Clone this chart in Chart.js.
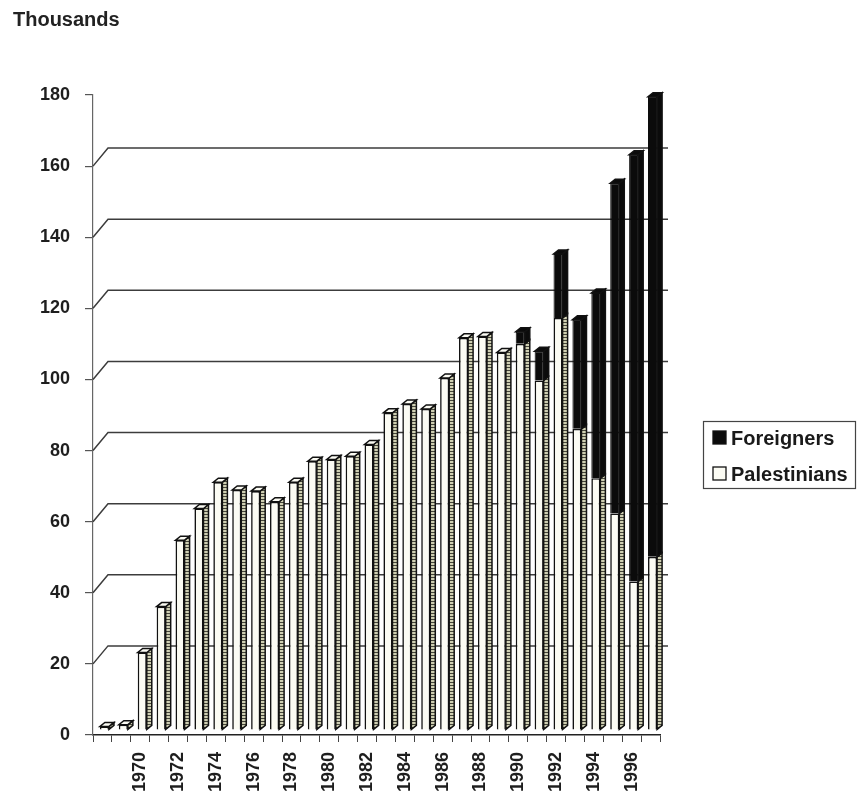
<!DOCTYPE html>
<html>
<head>
<meta charset="utf-8">
<script src="https://cdn.jsdelivr.net/npm/chart.js@4/dist/chart.umd.min.js"></script>
<style>
  html, body { margin: 0; padding: 0; background: #fff; }
  #wrap { position: relative; width: 858px; height: 797px; }
  #title { position: absolute; left: 13px; top: 8px; font: bold 20px "Liberation Sans", Arial, sans-serif; color: #222; }
  canvas { display: block; }
</style>
</head>
<body>
<div id="wrap">
  <div id="title">Thousands</div>
  <canvas id="c" width="858" height="797"></canvas>
</div>
<script>
// Workers by year, thousands
const years = ['1968','1969','1970','1971','1972','1973','1974','1975','1976','1977',
               '1978','1979','1980','1981','1982','1983','1984','1985','1986','1987',
               '1988','1989','1990','1991','1992','1993','1994','1995','1996','1997'];
const palestinians = [1.0, 1.5, 21.8, 34.7, 53.4, 62.3, 69.7, 67.5, 67.2, 64.2,
                      69.7, 75.6, 76.1, 77.0, 80.3, 89.2, 91.7, 90.3, 99.0, 110.3,
                      110.7, 106.2, 108.6, 98.3, 115.9, 84.7, 70.8, 60.9, 41.8, 48.7];
const foreigners   = [0, 0, 0, 0, 0, 0, 0, 0, 0, 0,
                      0, 0, 0, 0, 0, 0, 0, 0, 0, 0,
                      0, 0, 3.4, 8.2, 18.0, 30.7, 52.1, 92.9, 120.0, 129.4];
const labeledYears = ['1970','1972','1974','1976','1978','1980','1982','1984','1986','1988','1990','1992','1994','1996'];
const yMin = 0, yMax = 180, yStep = 20;

const FONT = '"Liberation Sans", Arial, sans-serif';
const canvas = document.getElementById('c');
const ctx = canvas.getContext('2d');

// hatched texture for the side faces of the light columns
function makeHatch() {
  const c = document.createElement('canvas');
  c.width = 4; c.height = 3;
  const g = c.getContext('2d');
  g.fillStyle = '#cfcfb2';
  g.fillRect(0, 0, 4, 3);
  g.fillStyle = '#45453a';
  g.fillRect(0, 0, 4, 1);
  return ctx.createPattern(c, 'repeat');
}
const hatch = makeHatch();

// pseudo-3D: back wall offset, column depth, column shift
const WALL_DX = 15, WALL_DY = -18;
const DEPTH_DX = 5, DEPTH_DY = -4;
const SHIFT_X = 2, SHIFT_Y = -5;

const depthPlugin = {
  id: 'depth3d',
  beforeDatasetsDraw(chart) {
    const c = chart.ctx, area = chart.chartArea, ys = chart.scales.y;
    c.save();
    c.strokeStyle = '#3c3c3c';
    c.lineWidth = 1.5;
    for (let v = yMin + yStep; v < yMax; v += yStep) {
      const py = ys.getPixelForValue(v);
      c.beginPath();
      c.moveTo(area.left, py);
      c.lineTo(area.left + WALL_DX, py + WALL_DY);
      c.lineTo(area.right + 8, py + WALL_DY);
      c.stroke();
    }
    c.restore();
    c.save();
    c.translate(SHIFT_X, SHIFT_Y);
  },
  afterDatasetsDraw(chart) {
    const c = chart.ctx;
    const metas = chart.data.datasets.map((d, i) => chart.getDatasetMeta(i));
    const sideFills = [hatch, '#0b0b0b'];
    const capFills = ['#fbfbf3', '#0b0b0b'];
    c.lineWidth = 1.5;
    c.strokeStyle = '#111';
    for (let i = 0; i < years.length; i++) {
      let topDs = -1;
      chart.data.datasets.forEach((d, k) => { if (d.data[i] > 0) topDs = k; });
      metas.forEach((meta, k) => {
        if (!(chart.data.datasets[k].data[i] > 0)) return;
        const el = meta.data[i];
        const p = el.getProps(['x', 'y', 'base', 'width'], true);
        const left = p.x - p.width / 2, right = p.x + p.width / 2;
        const top = Math.min(p.y, p.base), bottom = Math.max(p.y, p.base);
        // side face
        c.beginPath();
        c.moveTo(right, bottom);
        c.lineTo(right, top);
        c.lineTo(right + DEPTH_DX, top + DEPTH_DY);
        c.lineTo(right + DEPTH_DX, bottom + DEPTH_DY);
        c.closePath();
        c.fillStyle = sideFills[k];
        c.fill();
        c.stroke();
        // top face on the uppermost segment
        if (k === topDs) {
          c.beginPath();
          c.moveTo(left, top);
          c.lineTo(right, top);
          c.lineTo(right + DEPTH_DX, top + DEPTH_DY);
          c.lineTo(left + DEPTH_DX, top + DEPTH_DY);
          c.closePath();
          c.fillStyle = capFills[k];
          c.fill();
          c.stroke();
        }
      });
    }
    c.restore();
  }
};

// boxed legend on the right, Foreigners listed first
const boxLegend = {
  id: 'boxLegend',
  afterDraw(chart) {
    const c = chart.ctx;
    const x = 703, y = 421, w = 152, h = 67;
    c.save();
    c.strokeStyle = '#444';
    c.lineWidth = 1.2;
    c.strokeRect(x + 0.5, y + 0.5, w, h);
    const items = chart.data.datasets.slice().reverse();
    c.font = 'bold 20px ' + FONT;
    c.textBaseline = 'middle';
    items.forEach((ds, j) => {
      const cy = y + 17 + j * 36;
      c.fillStyle = ds.backgroundColor;
      c.fillRect(x + 10, cy - 7, 13, 13);
      c.strokeStyle = '#111';
      c.lineWidth = 1.3;
      c.strokeRect(x + 10, cy - 7, 13, 13);
      c.fillStyle = '#1a1a1a';
      c.fillText(ds.label, x + 28, cy + 1);
    });
    c.restore();
  }
};

new Chart(canvas, {
  type: 'bar',
  data: {
    labels: years,
    datasets: [
      { label: 'Palestinians', data: palestinians, backgroundColor: '#fbfbf3',
        borderColor: '#111', borderWidth: 1.6 },
      { label: 'Foreigners', data: foreigners, backgroundColor: '#0b0b0b',
        borderColor: '#0b0b0b', borderWidth: 1 }
    ]
  },
  options: {
    responsive: false,
    animation: false,
    devicePixelRatio: 1,
    barPercentage: 0.48,
    categoryPercentage: 1.0,
    layout: { padding: { top: 95, left: 0, right: 198, bottom: 0 } },
    plugins: { legend: { display: false }, tooltip: { enabled: false }, title: { display: false } },
    scales: {
      x: {
        stacked: true,
        afterFit(s) { s.height = 62; },
        grid: { drawOnChartArea: false, offset: true, tickLength: 7, color: '#444', lineWidth: 1 },
        border: { display: true, color: '#222', width: 1.5 },
        ticks: {
          autoSkip: false, minRotation: 90, maxRotation: 90, padding: 10,
          color: '#1e1e1e', font: { family: FONT, size: 18, weight: 'bold' },
          callback(v, i) { const yr = years[i]; return labeledYears.includes(yr) ? yr : ''; }
        }
      },
      y: {
        stacked: true,
        min: yMin, max: yMax,
        afterFit(s) { s.width = 93; },
        grid: { drawOnChartArea: false, tickLength: 8, color: '#555', lineWidth: 1.2 },
        border: { display: true, color: '#666', width: 1.2 },
        ticks: {
          stepSize: yStep, padding: 15, color: '#1e1e1e',
          font: { family: FONT, size: 18, weight: 'bold' }
        }
      }
    }
  },
  plugins: [depthPlugin, boxLegend]
});
</script>
</body>
</html>
